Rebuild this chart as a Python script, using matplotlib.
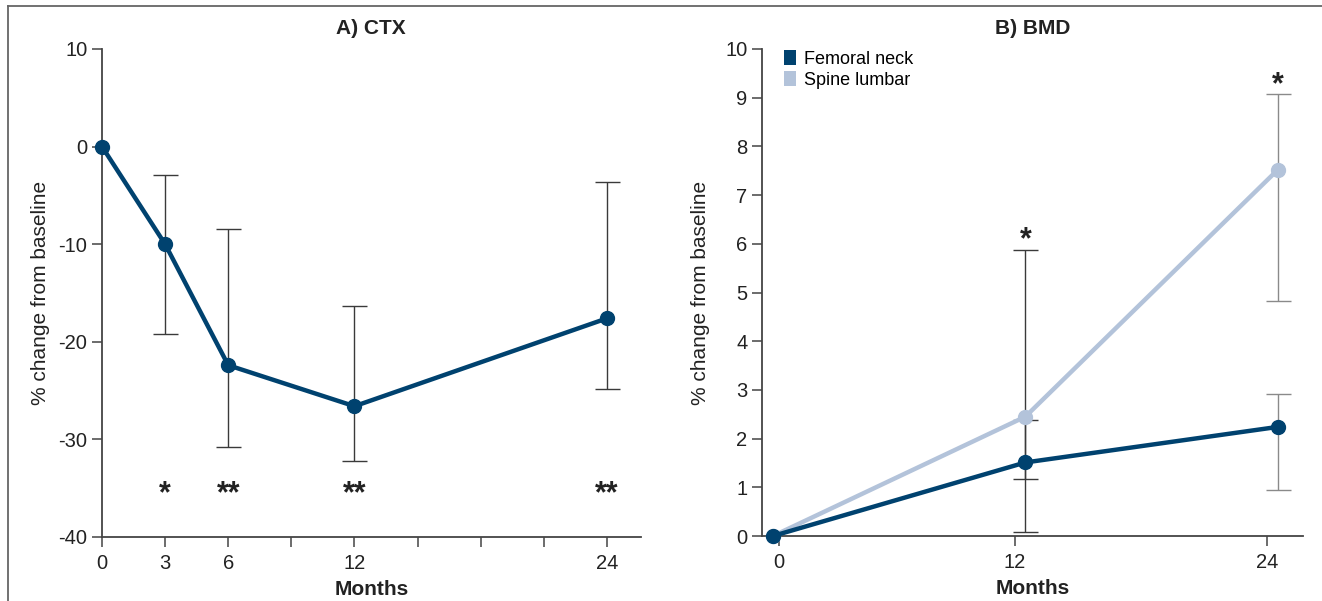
import matplotlib.pyplot as plt
import numpy as np
from matplotlib.patches import Patch
from matplotlib.lines import Line2D

plt.rcParams['font.family'] = ['Liberation Sans Narrow', 'Liberation Sans', 'DejaVu Sans']
plt.rcParams['axes.unicode_minus'] = False

# Panel A: CTX
ctx_months = [0, 3, 6, 12, 24]
ctx_mean = [0, -10.0, -22.4, -26.6, -17.6]
ctx_low = [0, -19.2, -30.8, -32.2, -24.8]
ctx_high = [0, -2.9, -8.4, -16.3, -3.6]
ctx_stars = ["", "*", "**", "**", "**"]
ctx_star_y = -35.6

# Panel B: BMD
bmd_months = [0, 12, 24]
neck_mean = [0, 1.51, 2.24]
neck_low = [0, 0.09, 0.95]
neck_high = [0, 2.38, 2.92]
spine_mean = [0, 2.45, 7.52]
spine_low = [0, 1.17, 4.83]
spine_high = [0, 5.88, 9.07]
bmd_star_months = [12, 24]
bmd_star_y = [6.08, 9.26]

navy = "#00426f"
light = "#b3c3da"
ebar = "#3a3a3a"
ebar_grey = "#8a8a8a"

fig = plt.figure(figsize=(13.22, 6.01), dpi=100)

# frame line round the figure (top and left visible)
fig.add_artist(Line2D([8/1322, 1.0], [1 - 6/601, 1 - 6/601], color="#666666", lw=1.3,
                      transform=fig.transFigure))
fig.add_artist(Line2D([8/1322, 8/1322], [0, 1 - 6/601], color="#666666", lw=1.3,
                      transform=fig.transFigure))

axA = fig.add_axes([102/1322, 64/601, 538.6/1322, 488/601])
axB = fig.add_axes([762/1322, 65/601, 541/1322, 487/601])

for ax in (axA, axB):
    for s in ("top", "right"):
        ax.spines[s].set_visible(False)
    for s in ("left", "bottom"):
        ax.spines[s].set_color("#444444")
        ax.spines[s].set_linewidth(1.3)
    ax.tick_params(axis="both", which="both", direction="out", length=7, width=1.1,
                   color="#444444", labelsize=14.5, labelcolor="#222222")
    ax.tick_params(axis="x", pad=5)

# ---- A) CTX
m = np.array(ctx_mean)
yerr = [m - np.array(ctx_low), np.array(ctx_high) - m]
axA.errorbar(ctx_months[1:], m[1:], yerr=[yerr[0][1:], yerr[1][1:]], fmt="none",
             ecolor=ebar, elinewidth=1.0, capsize=9, capthick=1.0, zorder=2)
axA.plot(ctx_months, ctx_mean, color=navy, lw=3.2, marker="o", ms=10, zorder=3,
         clip_on=False)
for xm, st in zip(ctx_months, ctx_stars):
    if st:
        axA.text(xm, ctx_star_y, st, ha="center", va="center", fontsize=22,
                 color="#222222", fontweight="bold")
axA.set_xlim(0, 25.6)
axA.set_ylim(-40, 10)
axA.set_xticks(ctx_months)
axA.set_xticklabels([str(v) for v in ctx_months])
axA.set_xticks([9, 15, 18, 21], minor=True)
axA.set_yticks([10, 0, -10, -20, -30, -40])
axA.set_title("A) CTX", fontsize=15, fontweight="bold", pad=11, color="#222222")
axA.set_xlabel("Months", fontsize=15, fontweight="bold", color="#222222")
axA.set_ylabel("% change from baseline", fontsize=15, color="#222222")
axA.xaxis.set_label_coords(0.5, -0.088)
axA.yaxis.set_label_coords(-0.097, 0.5)

# ---- B) BMD
for mean, low, high in ((spine_mean, spine_low, spine_high),
                        (neck_mean, neck_low, neck_high)):
    mm = np.array(mean)
    lo = mm - np.array(low)
    hi = np.array(high) - mm
    for i, col in ((1, ebar), (2, ebar_grey)):
        axB.errorbar([bmd_months[i]], [mm[i]], yerr=[[lo[i]], [hi[i]]], fmt="none",
                     ecolor=col, elinewidth=1.0, capsize=9, capthick=1.0, zorder=2)
axB.plot(bmd_months, spine_mean, color=light, lw=3.2, marker="o", ms=10, zorder=3,
         clip_on=False)
axB.plot(bmd_months, neck_mean, color=navy, lw=3.2, marker="o", ms=10, zorder=4,
         clip_on=False)
for xm, ys in zip(bmd_star_months, bmd_star_y):
    axB.text(xm, ys, "*", ha="center", va="center", fontsize=22, color="#222222",
             fontweight="bold")
axB.set_xlim(-0.52, 25.2)
axB.set_ylim(0, 10)
axB.set_xticks([0.3, 11.5, 23.5])
axB.set_xticklabels(["0", "12", "24"])
axB.set_yticks(range(0, 11))
axB.set_title("B) BMD", fontsize=15, fontweight="bold", pad=11, color="#222222")
axB.set_xlabel("Months", fontsize=15, fontweight="bold", color="#222222")
axB.set_ylabel("% change from baseline", fontsize=15, color="#222222")
axB.xaxis.set_label_coords(0.5, -0.088)
axB.yaxis.set_label_coords(-0.096, 0.5)

handles = [Patch(facecolor=navy, edgecolor="none", label="Femoral neck"),
           Patch(facecolor=light, edgecolor="none", label="Spine lumbar")]
axB.legend(handles=handles, loc="upper left", bbox_to_anchor=(0.02, 1.02),
           frameon=False, fontsize=13, handlelength=0.7, handleheight=0.9,
           handletextpad=0.4, labelspacing=0.2, borderaxespad=0.2)

fig.savefig("out.png", dpi=100)
